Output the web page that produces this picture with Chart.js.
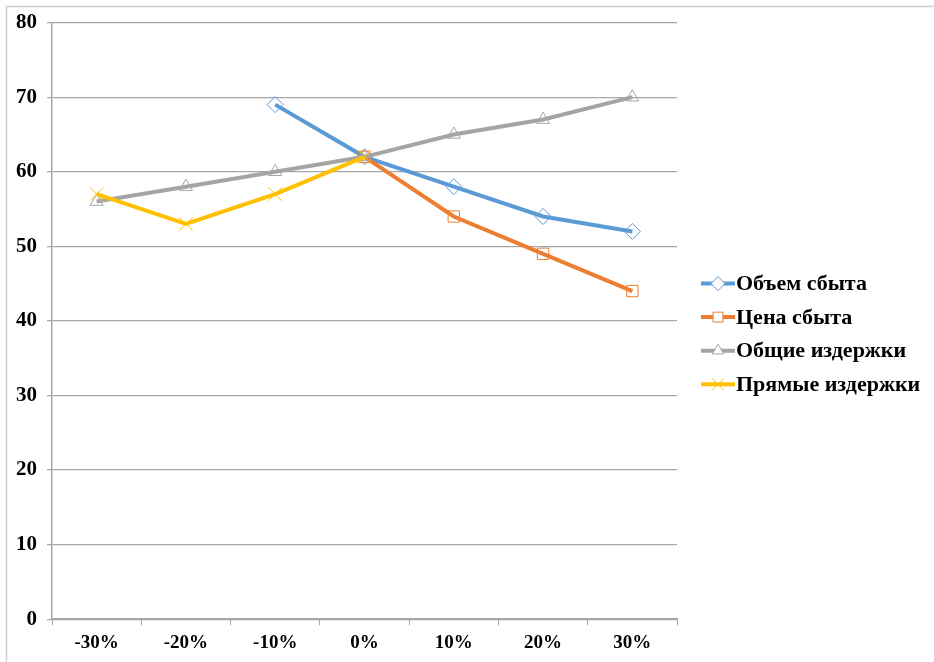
<!DOCTYPE html>
<html>
<head>
<meta charset="utf-8">
<script src="https://cdn.jsdelivr.net/npm/chart.js@4.4.1/dist/chart.umd.min.js"></script>
<style>
  html, body { margin: 0; padding: 0; background: #fff; }
  #wrap { width: 934px; height: 662px; position: relative; }
</style>
</head>
<body>
<div id="wrap"><canvas id="c" width="934" height="662"></canvas></div>
<script>
const categories = ['-30%', '-20%', '-10%', '0%', '10%', '20%', '30%'];
const seriesNames = ['Объем сбыта', 'Цена сбыта', 'Общие издержки', 'Прямые издержки'];
const volume = [null, null, 69, 62, 58, 54, 52];
const price = [null, null, null, 62, 54, 49, 44];
const totalCosts = [56, 58, 60, 62, 65, 67, 70];
const directCosts = [57, 53, 57, 62, null, null, null];
const yTicks = [0, 10, 20, 30, 40, 50, 60, 70, 80];

const colors = ['#5B9BD5', '#ED7D31', '#A5A5A5', '#FFC000'];
const pointStyles = ['rectRot', 'rect', 'triangle', 'crossRot'];
const pointSizes = [8, 8, 7.5, 9.5];
const values = [volume, price, totalCosts, directCosts];
const FONT = '"Liberation Serif", "Times New Roman", serif';

const datasets = values.map((v, i) => ({
  label: seriesNames[i],
  data: v,
  borderColor: colors[i],
  backgroundColor: colors[i],
  borderWidth: 4,
  pointStyle: pointStyles[i],
  pointRadius: pointSizes[i],
  pointBorderWidth: 1,
  pointBorderColor: colors[i],
  pointBackgroundColor: 'rgba(255,255,255,0)',
  spanGaps: false,
  tension: 0,
  order: 4 - i
}));

const frame = {
  id: 'frame',
  beforeDraw(chart) {
    const ctx = chart.ctx;
    ctx.save();
    ctx.fillStyle = '#fff';
    ctx.fillRect(0, 0, chart.width, chart.height);
    ctx.strokeStyle = '#cfcfcf';
    ctx.lineWidth = 1.5;
    ctx.beginPath();
    ctx.moveTo(6.5, chart.height);
    ctx.lineTo(6.5, 6.5);
    ctx.lineTo(chart.width, 6.5);
    ctx.stroke();
    ctx.restore();
  }
};

// Legend to the right of the plot, drawn in the style of the original
const customLegend = {
  id: 'customLegend',
  afterDraw(chart) {
    const ctx = chart.ctx;
    const area = chart.chartArea;
    const lineLeft = area.right + 24;
    const lineLen = 34;
    const rowGap = 33.6;
    const midY = (area.top + area.bottom) / 2;
    const firstY = midY + 13 - rowGap * (seriesNames.length - 1) / 2;
    ctx.save();
    ctx.font = 'bold 22px ' + FONT;
    ctx.textBaseline = 'middle';
    ctx.textAlign = 'left';
    seriesNames.forEach((name, i) => {
      const cy = firstY + i * rowGap;
      ctx.strokeStyle = colors[i];
      ctx.lineWidth = 4;
      ctx.beginPath();
      ctx.moveTo(lineLeft, cy);
      ctx.lineTo(lineLeft + lineLen, cy);
      ctx.stroke();
      ctx.fillStyle = '#ffffff';
      ctx.lineWidth = 1;
      Chart.helpers.drawPoint(ctx, {
        pointStyle: pointStyles[i],
        radius: pointSizes[i] - 1,
        borderWidth: 1
      }, lineLeft + lineLen / 2, cy);
      ctx.fillStyle = '#000';
      ctx.fillText(name, lineLeft + lineLen + 1, cy + 1);
    });
    ctx.restore();
  }
};

new Chart(document.getElementById('c'), {
  type: 'line',
  data: { labels: categories, datasets },
  options: {
    responsive: false,
    animation: false,
    devicePixelRatio: 1,
    layout: { padding: { left: 6, top: 22, right: 257, bottom: 2 } },
    plugins: {
      tooltip: { enabled: false },
      legend: { display: false }
    },
    scales: {
      x: {
        offset: true,
        grid: {
          offset: true,
          drawOnChartArea: false,
          drawTicks: true,
          tickLength: 6,
          color: '#a6a6a6'
        },
        border: { color: '#a6a6a6', width: 1.5 },
        ticks: {
          font: { family: FONT, size: 19, weight: 'bold' },
          color: '#000',
          padding: 6
        }
      },
      y: {
        min: 0,
        max: 80,
        afterBuildTicks(axis) { axis.ticks = yTicks.map(v => ({ value: v })); },
        grid: {
          color: '#a6a6a6',
          lineWidth: 1.2,
          tickLength: 5
        },
        border: { color: '#a6a6a6', width: 1.5 },
        ticks: {
          font: { family: FONT, size: 21, weight: 'bold' },
          color: '#000',
          padding: 10
        }
      }
    }
  },
  plugins: [frame, customLegend]
});
</script>
</body>
</html>
